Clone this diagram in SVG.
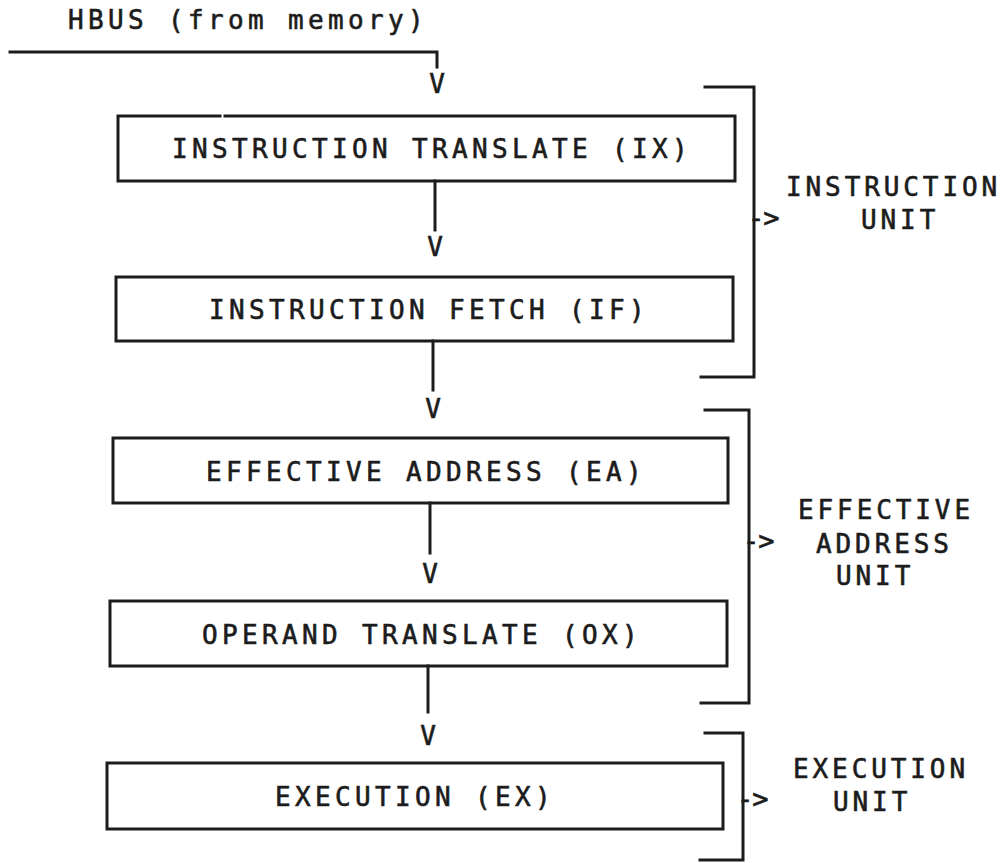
<svg xmlns="http://www.w3.org/2000/svg" width="1004" height="863" viewBox="0 0 1004 863">
<style>
.ln{fill:none;stroke:#1c1c1c;stroke-width:3;stroke-linecap:square}
.t{font-family:"DejaVu Sans Mono","Liberation Mono",monospace;font-size:26px;fill:#1c1c1c;stroke:#1c1c1c;stroke-width:0.6px;letter-spacing:4.35px}
.lb{letter-spacing:3.9px}
.v{font-family:"DejaVu Sans Mono","Liberation Mono",monospace;font-size:26px;fill:#1c1c1c;stroke:#1c1c1c;stroke-width:0.6px;text-anchor:middle}
.ar{font-family:"DejaVu Sans Mono","Liberation Mono",monospace;font-size:27px;fill:#1c1c1c;stroke:#1c1c1c;stroke-width:0.6px;letter-spacing:-1px}
</style>
<rect width="1004" height="863" fill="#ffffff"/>
<g id="hbus">
<text class="t" x="68" y="29">HBUS (from memory)</text>
</g>
<g id="connectors">
<path class="ln" d="M10,52 H437 V67"/>
<text class="v" x="437" y="93">V</text>
<path class="ln" d="M435,181 V230"/>
<text class="v" x="435" y="256">V</text>
<path class="ln" d="M433,341 V390"/>
<text class="v" x="433" y="418">V</text>
<path class="ln" d="M430,503 V553"/>
<text class="v" x="430" y="583">V</text>
<path class="ln" d="M428,666 V712"/>
<text class="v" x="428" y="745">V</text>
</g>
<g id="ix">
<path class="ln" d="M220,116 H118 V181 H735 V116 H225"/>
<text class="t" x="172" y="158">INSTRUCTION TRANSLATE (IX)</text>
</g>
<g id="if">
<rect class="ln" x="116" y="277" width="617" height="64"/>
<text class="t" x="209" y="319">INSTRUCTION FETCH (IF)</text>
</g>
<g id="ea">
<rect class="ln" x="113" y="438" width="615" height="65"/>
<text class="t" x="206" y="481">EFFECTIVE ADDRESS (EA)</text>
</g>
<g id="ox">
<rect class="ln" x="110" y="601" width="617" height="65"/>
<text class="t" x="202" y="644">OPERAND TRANSLATE (OX)</text>
</g>
<g id="ex">
<rect class="ln" x="107" y="763" width="616" height="66"/>
<text class="t" x="275" y="806">EXECUTION (EX)</text>
</g>
<g id="instruction-unit">
<path class="ln" d="M705,87 H754 V377 H701"/>
<text class="ar" x="748" y="227">-&gt;</text>
<text class="t lb" x="786" y="196">INSTRUCTION</text>
<text class="t lb" x="861" y="229">UNIT</text>
</g>
<g id="effective-address-unit">
<path class="ln" d="M705,410 H749 V703 H701"/>
<text class="ar" x="743" y="550">-&gt;</text>
<text class="t lb" x="798" y="519">EFFECTIVE</text>
<text class="t lb" x="816" y="553">ADDRESS</text>
<text class="t lb" x="836" y="585">UNIT</text>
</g>
<g id="execution-unit">
<path class="ln" d="M705,733 H743 V860 H700"/>
<text class="ar" x="737" y="808">-&gt;</text>
<text class="t lb" x="793" y="778">EXECUTION</text>
<text class="t lb" x="833" y="811">UNIT</text>
</g>
</svg>
